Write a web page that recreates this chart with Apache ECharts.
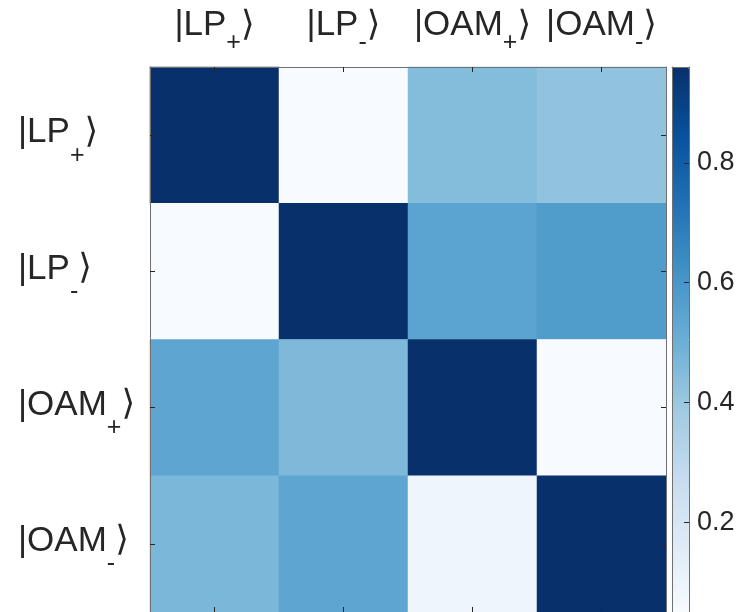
<!DOCTYPE html>
<html><head><meta charset="utf-8">
<script src="https://cdn.jsdelivr.net/npm/echarts@6/dist/echarts.min.js"></script>
<style>html,body{margin:0;padding:0;background:#fff}#c{width:753px;height:612px}</style>
</head><body><div id="c"></div>
<script>
// ---- data ----
var states = ['LP', 'LP', 'OAM', 'OAM'];
var subs = ['+', '-', '+', '-'];
var rowLPp  = [0.96, 0.05, 0.45, 0.42];
var rowLPm  = [0.05, 0.96, 0.55, 0.58];
var rowOAMp = [0.54, 0.46, 0.96, 0.05];
var rowOAMm = [0.47, 0.54, 0.09, 0.96];
var cbarTicks = [0.2, 0.4, 0.6, 0.8];
var cMin = 0.05, cMax = 0.96;

var rows = [rowLPp, rowLPm, rowOAMp, rowOAMm];
var cats = states.map(function (s, i) { return s + subs[i]; });
var data = [];
rows.forEach(function (r, y) { r.forEach(function (v, x) { data.push([x, y, v]); }); });

var blues = ['#f7fbff','#deebf7','#c6dbef','#9ecae1','#6baed6','#4292c6','#2171b5','#08519c','#08306b'];
var FONT = "'Liberation Sans', Arial, Helvetica, sans-serif";
var TXT = '#262626';
var LINE = '#707070';

function ketLabel(v, i) {
  return '{n|\u007C' + states[i] + '}{s|' + subs[i] + '}{k|\u27E9}';
}
function makeRich(subPad) {
  return {
    n: { fontSize: 35, fontFamily: FONT, color: TXT, lineHeight: 40, verticalAlign: 'top' },
    s: { fontSize: 25, fontFamily: FONT, color: TXT, lineHeight: 25, padding: [subPad, 0, 0, 0], verticalAlign: 'top' },
    k: { fontSize: 35, fontFamily: "'DejaVu Sans', sans-serif", color: TXT, lineHeight: 40, verticalAlign: 'top' }
  };
}

var chart = echarts.init(document.getElementById('c'), null, { renderer: 'canvas' });
chart.setOption({
  backgroundColor: '#ffffff',
  animation: false,
  grid: [
    { left: 150, top: 67, width: 516, height: 546 },
    { left: 672, top: 67, width: 17, height: 546 }
  ],
  xAxis: [
    { type: 'category', data: cats, gridIndex: 0, position: 'top', z: 10,
      axisLine: { show: true, lineStyle: { color: LINE, width: 1 } },
      axisTick: { show: true, inside: true, alignWithLabel: true, length: 5, lineStyle: { color: TXT } },
      axisLabel: { margin: 19, formatter: ketLabel, rich: makeRich(23) },
      splitLine: { show: false } },
    { type: 'category', data: cats, gridIndex: 0, position: 'bottom', z: 10,
      axisLine: { show: true, lineStyle: { color: LINE, width: 1 } },
      axisTick: { show: true, inside: true, alignWithLabel: true, length: 5, lineStyle: { color: TXT } },
      axisLabel: { show: false }, splitLine: { show: false } },
    { type: 'category', data: [''], gridIndex: 1, position: 'top', z: 10,
      axisLine: { show: true, lineStyle: { color: LINE, width: 1 } },
      axisTick: { show: false }, axisLabel: { show: false } }
  ],
  yAxis: [
    { type: 'category', data: cats, gridIndex: 0, inverse: true, position: 'left', z: 10,
      axisLine: { show: true, lineStyle: { color: LINE, width: 1 } },
      axisTick: { show: true, inside: true, alignWithLabel: true, length: 5, lineStyle: { color: TXT } },
      axisLabel: { margin: 132, align: 'left', formatter: ketLabel, rich: makeRich(28) },
      splitLine: { show: false } },
    { type: 'category', data: cats, gridIndex: 0, inverse: true, position: 'right', z: 10,
      axisLine: { show: true, lineStyle: { color: LINE, width: 1 } },
      axisTick: { show: true, inside: true, alignWithLabel: true, length: 5, lineStyle: { color: TXT } },
      axisLabel: { show: false }, splitLine: { show: false } },
    { type: 'value', gridIndex: 1, min: cMin, max: cMax, position: 'right', z: 10,
      axisLine: { show: true, lineStyle: { color: LINE, width: 1 } },
      axisTick: { show: true, inside: true, length: 5, customValues: cbarTicks, lineStyle: { color: TXT } },
      axisLabel: { show: true, margin: 8, customValues: cbarTicks, fontSize: 27, fontFamily: FONT, color: TXT,
                   formatter: function (v) { return v.toFixed(1); } },
      splitLine: { show: false } },
    { type: 'value', gridIndex: 1, min: cMin, max: cMax, position: 'left', z: 10,
      axisLine: { show: true, lineStyle: { color: LINE, width: 1 } },
      axisTick: { show: false }, axisLabel: { show: false }, splitLine: { show: false } }
  ],
  visualMap: {
    type: 'continuous', min: cMin, max: cMax, seriesIndex: 0, dimension: 2,
    calculable: false, show: true, orient: 'vertical', align: 'left',
    left: 672, top: 67, itemWidth: 17, itemHeight: 546, padding: 0, text: null,
    showLabel: false,
    inRange: { color: blues }
  },
  series: [{
    type: 'heatmap', xAxisIndex: 0, yAxisIndex: 0, data: data,
    itemStyle: { borderWidth: 0 },
    label: { show: false },
    emphasis: { disabled: true }
  }]
});
</script></body></html>
